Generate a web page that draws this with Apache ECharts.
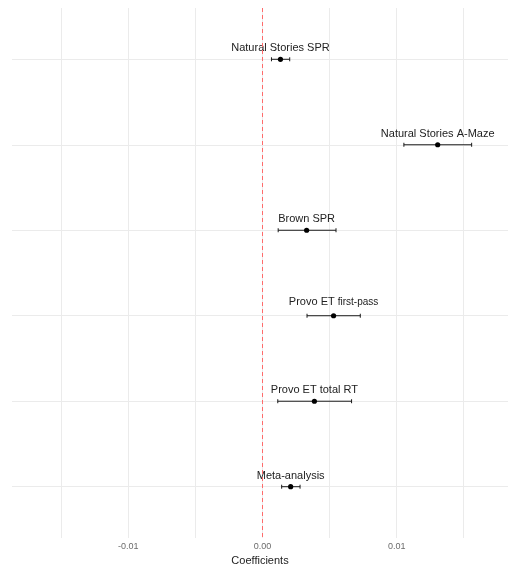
<!DOCTYPE html>
<html><head><meta charset="utf-8">
<script src="https://cdn.jsdelivr.net/npm/echarts@6/dist/echarts.min.js"></script>
<style>html,body{margin:0;padding:0;background:#fff}#c{width:508px;height:565px}</style>
</head><body><div id="c"></div>
<script>
const categories = ['Natural Stories SPR','Natural Stories A-Maze','Brown SPR','Provo ET first-pass','Provo ET total RT','Meta-analysis'];
const labels = ['Natural Stories SPR','Natural Stories A-Maze','Brown SPR','{a|Provo ET }{b|first-pass}','Provo ET total RT','Meta-analysis'];
const estimate = [0.00134, 0.01306, 0.00329, 0.00530, 0.00387, 0.00210];
const lower    = [0.00067, 0.01054, 0.00117, 0.00332, 0.00114, 0.00143];
const upper    = [0.00203, 0.01559, 0.00548, 0.00729, 0.00664, 0.00280];
const xGridValues = [-0.015,-0.01,-0.005,0,0.005,0.01,0.015];
const xTickLabels = [-0.01, 0, 0.01];

const chart = echarts.init(document.getElementById('c'));
const font = 'Liberation Sans, Arial, sans-serif';
const data = categories.map((c,i)=>[lower[i], upper[i], estimate[i], i+1, i]);
chart.setOption({
  animation:false,
  grid:{left:12,right:0,top:8,bottom:27,containLabel:false,outerBoundsMode:'none'},
  xAxis:{type:'value',min:-0.01867,max:0.0183,
    name:'Coefficients',nameLocation:'middle',nameGap:11,
    nameTextStyle:{fontFamily:font,fontSize:11,color:'#222'},
    axisLine:{show:false},
    axisTick:{show:false,customValues:xGridValues},
    axisLabel:{customValues:xTickLabels,fontFamily:font,fontSize:9,color:'#6b6b6b',margin:4,
      formatter:v=>v.toFixed(2)},
    splitLine:{show:true,lineStyle:{color:'#ebebeb',width:1}}},
  yAxis:{type:'value',min:0.4,max:6.6,inverse:true,
    axisLine:{show:false},axisLabel:{show:false},
    axisTick:{show:false,customValues:[1,2,3,4,5,6]},
    splitLine:{show:true,lineStyle:{color:'#ebebeb',width:1}}},
  series:[
    {type:'line',data:[],silent:true,
      markLine:{silent:true,symbol:'none',label:{show:false},
        lineStyle:{color:'#ff6b6b',type:[4,3],width:1},
        data:[{xAxis:0}]}},
    {type:'custom',data:data,silent:true,
      renderItem:(params,api)=>{
        const y=api.value(3);
        const p1=api.coord([api.value(0),y]);
        const p2=api.coord([api.value(1),y]);
        const pe=api.coord([api.value(2),y]);
        const s={stroke:'#1a1a1a',lineWidth:1};
        const idx=api.value(4);
        const txt=labels[idx];
        const off=txt.indexOf('{')===0?14:11;
        return {type:'group',children:[
          {type:'line',shape:{x1:p1[0],y1:p1[1],x2:p2[0],y2:p2[1]},style:s},
          {type:'line',shape:{x1:p1[0],y1:p1[1]-2,x2:p1[0],y2:p1[1]+2},style:s},
          {type:'line',shape:{x1:p2[0],y1:p2[1]-2,x2:p2[0],y2:p2[1]+2},style:s},
          {type:'circle',shape:{cx:pe[0],cy:pe[1],r:2.6},style:{fill:'#000'}},
          {type:'text',x:pe[0],y:pe[1]-off,style:{text:txt,fontFamily:font,fontSize:11,fill:'#222',
            align:'center',verticalAlign:'middle',
            rich:{a:{fontFamily:font,fontSize:11,fill:'#222'},b:{fontFamily:font,fontSize:10,fill:'#222',verticalAlign:'bottom'}}}}
        ]};
      }}
  ]
});
</script></body></html>
